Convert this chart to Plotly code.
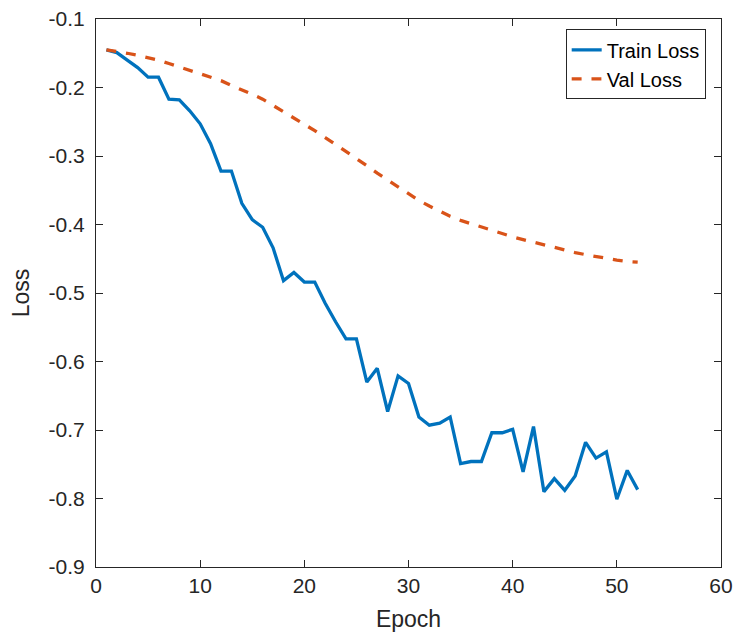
import plotly.graph_objects as go

epochs = list(range(1, 53))
train_loss = [-0.145, -0.149, -0.160, -0.171, -0.185, -0.185, -0.217, -0.218, -0.234, -0.253,
              -0.282, -0.322, -0.322, -0.369, -0.393, -0.404, -0.434, -0.482, -0.470, -0.484,
              -0.484, -0.515, -0.542, -0.567, -0.567, -0.630, -0.610, -0.673, -0.621, -0.632,
              -0.681, -0.693, -0.690, -0.681, -0.749, -0.746, -0.746, -0.704, -0.704, -0.699,
              -0.761, -0.695, -0.790, -0.771, -0.788, -0.767, -0.718, -0.741, -0.732, -0.801,
              -0.759, -0.787]
val_loss = [-0.145, -0.147, -0.150, -0.153, -0.156, -0.160, -0.165, -0.170, -0.175, -0.180,
            -0.185, -0.190, -0.197, -0.203, -0.210, -0.217, -0.226, -0.235, -0.244, -0.253,
            -0.263, -0.273, -0.283, -0.293, -0.304, -0.314, -0.325, -0.335, -0.346, -0.356,
            -0.365, -0.373, -0.381, -0.388, -0.394, -0.399, -0.404, -0.409, -0.413, -0.418,
            -0.422, -0.426, -0.430, -0.434, -0.437, -0.441, -0.444, -0.447, -0.450, -0.452,
            -0.454, -0.455]
x_ticks = [0, 10, 20, 30, 40, 50, 60]
y_ticks = [-0.9, -0.8, -0.7, -0.6, -0.5, -0.4, -0.3, -0.2, -0.1]

axis_color = "#262626"
font_family = "Liberation Sans, Arial, sans-serif"

fig = go.Figure()
fig.add_trace(go.Scatter(x=epochs, y=train_loss, mode="lines", name="Train Loss",
                         line=dict(color="#0072BD", width=3.3)))
fig.add_trace(go.Scatter(x=epochs, y=val_loss, mode="lines", name="Val Loss",
                         line=dict(color="#D95319", width=3.3, dash="dash")))

common = dict(showline=True, linecolor=axis_color, linewidth=1, mirror="ticks",
              ticks="inside", ticklen=7, tickcolor=axis_color, tickwidth=1,
              showgrid=False, zeroline=False, automargin=False,
              tickfont=dict(family=font_family, size=21, color=axis_color),
              title_font=dict(family=font_family, size=23, color=axis_color))

fig.update_xaxes(range=[0, 60], tickvals=x_ticks, ticktext=[str(v) for v in x_ticks],
                 title_text="Epoch", title_standoff=14, **common)
fig.update_yaxes(range=[-0.9, -0.1], tickvals=y_ticks, ticktext=[f"{v:.1f}" for v in y_ticks],
                 title_text="Loss", title_standoff=12, ticklabelstandoff=6, **common)

fig.update_layout(
    width=734, height=640,
    margin=dict(l=96, r=13, t=19, b=73),
    plot_bgcolor="white", paper_bgcolor="white",
    font=dict(family=font_family, color=axis_color),
    legend=dict(x=0.9755, y=0.981, xanchor="right", yanchor="top",
                bgcolor="white", bordercolor=axis_color, borderwidth=1,
                font=dict(family=font_family, size=20, color="#000000"),
                tracegroupgap=0),
)

fig.write_html("out.html")
